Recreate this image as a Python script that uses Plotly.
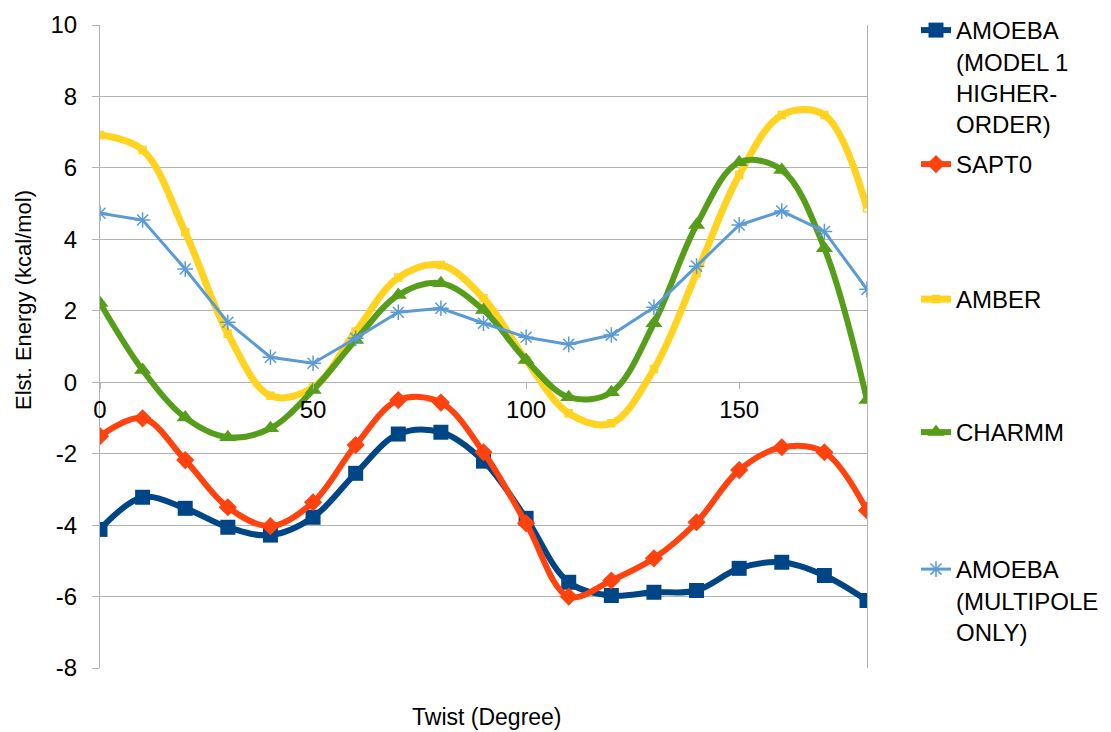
import plotly.graph_objects as go

# twist angle in degrees
twist = [0, 10, 20, 30, 40, 50, 60, 70, 80, 90, 100, 110, 120, 130, 140, 150, 160, 170, 180]

# electrostatic energy (kcal/mol) per method
amoeba_model1 = [-4.12, -3.22, -3.53, -4.06, -4.28, -3.78, -2.55, -1.45, -1.40, -2.21,
                 -3.81, -5.60, -5.97, -5.88, -5.83, -5.21, -5.04, -5.41, -6.11]
sapt0 = [-1.51, -1.01, -2.18, -3.50, -4.03, -3.36, -1.76, -0.50, -0.57, -1.96,
         -3.95, -6.00, -5.55, -4.93, -3.92, -2.46, -1.82, -1.96, -3.59]
amber = [6.92, 6.50, 4.20, 1.36, -0.38, -0.15, 1.42, 2.93, 3.28, 2.35,
         0.62, -0.87, -1.15, 0.37, 3.05, 5.80, 7.48, 7.48, 4.87]
charmm = [2.22, 0.34, -0.99, -1.54, -1.29, -0.22, 1.18, 2.44, 2.77, 2.02,
          0.62, -0.42, -0.28, 1.65, 4.40, 6.16, 5.94, 3.75, -0.50]
amoeba_multipole = [4.73, 4.54, 3.17, 1.68, 0.70, 0.53, 1.23, 1.96, 2.07, 1.65,
                    1.26, 1.06, 1.32, 2.10, 3.25, 4.40, 4.79, 4.22, 2.60]

y_ticks = [10, 8, 6, 4, 2, 0, -2, -4, -6, -8]

FONT = "Liberation Sans, Arial, sans-serif"
GRID = "#b3b3b3"

# the page body has an 8px margin, so the figure is 8px smaller than the window
W, H = 1103, 724
PLOT_L, PLOT_R, PLOT_T, PLOT_B = 92, 859, 17, 660


def px_x(p):
    # window pixel -> paper x
    return (p - 8 - PLOT_L) / (PLOT_R - PLOT_L)


def px_y(p):
    # window pixel -> paper y
    return (PLOT_B - (p - 8)) / (PLOT_B - PLOT_T)


fig = go.Figure()

# name, values, colour, line width, line shape, marker, legend id, legend top (window px)
series = [
    ("AMOEBA<br>(MODEL 1<br>HIGHER-<br>ORDER)", amoeba_model1, "#004586", 6, "spline",
     dict(symbol="square", size=15), "legend", 8),
    ("SAPT0", sapt0, "#ff420e", 6, "spline",
     dict(symbol="diamond", size=14), "legend2", 142),
    ("AMBER", amber, "#ffd320", 7, "spline",
     dict(symbol="square-open", size=7, line=dict(width=1.5, color="#ffd320")), "legend3", 277),
    ("CHARMM", charmm, "#579d1c", 6, "spline",
     dict(symbol="triangle-up", size=15), "legend4", 410),
    ("AMOEBA<br>(MULTIPOLE<br>ONLY)", amoeba_multipole, "#5b9bd5", 3, "linear",
     dict(symbol="asterisk-open", size=13, line=dict(width=1.5, color="#5b9bd5")), "legend5", 547),
]

legends = {}
for name, vals, color, width, shape, marker, leg, top in series:
    fig.add_trace(go.Scatter(
        x=twist, y=vals, name=name, mode="lines+markers",
        line=dict(color=color, width=width, shape=shape, smoothing=1),
        marker=dict(color=color, **marker),
        legend=leg,
    ))
    legends[leg] = dict(
        x=px_x(916), xanchor="left",
        y=px_y(top), yanchor="top",
        valign="top", bgcolor="rgba(0,0,0,0)",
        font=dict(family=FONT, size=24, color="#000000"),
    )

fig.update_layout(
    width=W, height=H,
    margin=dict(l=PLOT_L, r=W - PLOT_R, t=PLOT_T, b=H - PLOT_B, autoexpand=False),
    plot_bgcolor="white", paper_bgcolor="white",
    font=dict(family=FONT, size=24, color="#000000"),
    showlegend=True,
    xaxis=dict(
        range=[0, 180], tickvals=[0, 50, 100, 150],
        showgrid=False, zeroline=False, showline=False,
        anchor="free", position=8 / 18,
        ticks="outside", ticklen=6, tickcolor=GRID,
        tickfont=dict(family=FONT, size=24, color="#000000"),
    ),
    yaxis=dict(
        range=[-8, 10], tickvals=y_ticks, ticktext=[str(v) for v in y_ticks],
        showgrid=True, gridcolor=GRID, gridwidth=1, zeroline=False,
        showline=True, linecolor=GRID, linewidth=1, mirror=True,
        ticks="outside", ticklen=7, tickcolor=GRID, ticklabelstandoff=10,
        tickfont=dict(family=FONT, size=24, color="#000000"),
    ),
    annotations=[
        dict(text="Twist (Degree)", xref="paper", yref="paper",
             x=px_x(487), y=px_y(717), xanchor="center", yanchor="middle",
             showarrow=False, font=dict(family=FONT, size=23, color="#000000")),
        dict(text="Elst. Energy (kcal/mol)", xref="paper", yref="paper",
             x=px_x(23), y=px_y(300), xanchor="center", yanchor="middle",
             textangle=-90, showarrow=False,
             font=dict(family=FONT, size=22, color="#000000")),
    ],
    **legends,
)

fig.write_html("out.html")
